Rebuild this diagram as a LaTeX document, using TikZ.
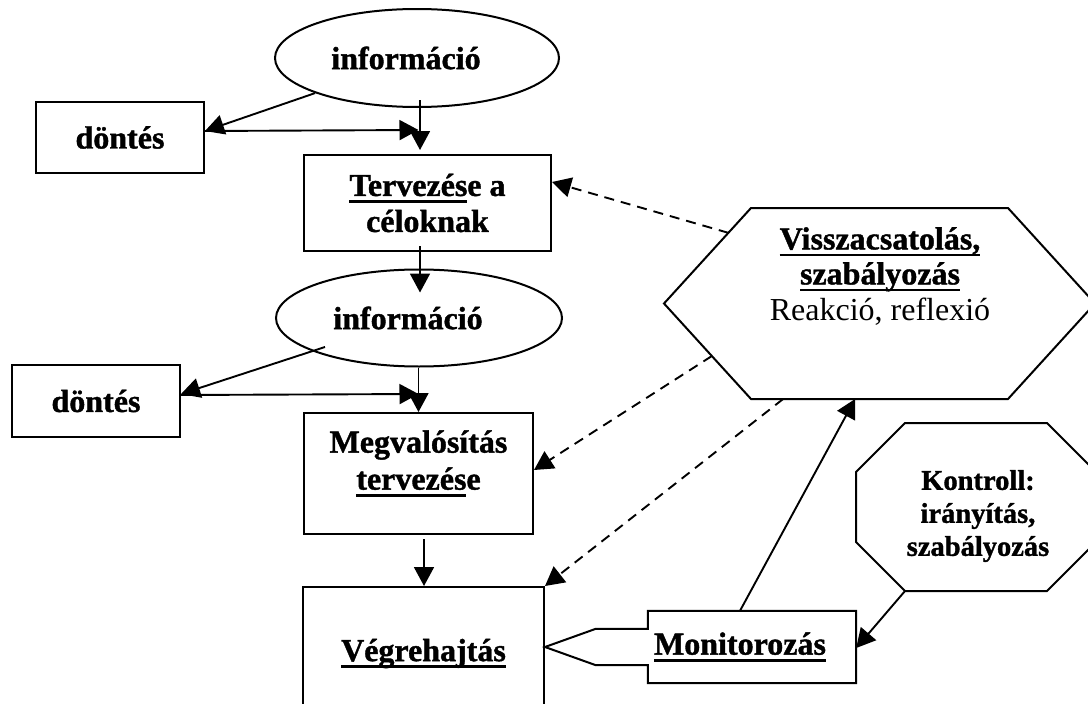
\documentclass[tikz,border=0pt]{standalone}
\usepackage{fontspec}
\setmainfont{Liberation Serif}[BoldFeatures={FakeBold=1.2}]
\usetikzlibrary{arrows.meta,calc,shapes.geometric}
% thick underline that sits just below the baseline
\newsavebox\ulsave
\newcommand\ulbar[1]{\sbox\ulsave{#1}\rlap{\rule[-7pt]{\wd\ulsave}{2.8pt}}\usebox\ulsave}
\begin{document}
\begin{tikzpicture}[x=1pt,y=-1pt,
  every node/.style={font=\fontsize{32}{34}\selectfont\bfseries, inner sep=0pt},
  box/.style={draw, line width=2pt, rectangle, align=center},
  oval/.style={draw, line width=2pt, ellipse},
  outline/.style={line width=2pt, line join=miter},
  arr/.style={line width=1.9pt, -{Triangle[length=19pt,width=20pt]}},
  dsh/.style={arr, dash pattern=on 10pt off 7pt},
]
\useasboundingbox (0,0) rectangle (1088,704);
\clip (0,0) rectangle (1088,704);

% ---- left column: planning chain ----
\node[oval, minimum width=284pt, minimum height=98pt] (info1) at (417,58) {információ\rule{22pt}{0pt}};
\node[box, minimum width=168pt, minimum height=71pt] (dont1) at (120,137.5) {döntés};
\node[box, minimum width=247pt, minimum height=96pt] (terv) at (427.5,203) {\ulbar{Tervezés}e a\\[2pt]céloknak};
\node[oval, minimum width=286pt, minimum height=97pt] (info2) at (419,318) {információ\rule{22pt}{0pt}};
\node[box, minimum width=168pt, minimum height=72pt] (dont2) at (96,401) {döntés};
\node[box, minimum width=229pt, minimum height=121pt, text depth=27pt] (megv) at (418.5,473.5) {Megvalósítás\\[3pt]\ulbar{tervezés}e};
\node[box, minimum width=241pt, minimum height=133pt] (vegr) at (423.5,653.5) {\ulbar{Végrehajtás}};

% ---- feedback hexagon ----
\coordinate (h1) at (664,303.5);
\coordinate (h2) at (751,208);
\coordinate (h3) at (1008,208);
\coordinate (h4) at (1095,303.5);
\coordinate (h5) at (1008,399);
\coordinate (h6) at (751,399);
\draw[outline] (h1) -- (h2) -- (h3) -- (h4) -- (h5) -- (h6) -- cycle;
\node[anchor=north, align=center] (visz) at (880,227)
  {\ulbar{Visszacsatolás,}\\[1pt]\ulbar{szabályozás}\\[2pt]\mdseries Reakció, reflexió};

% ---- control octagon ----
\coordinate (o1) at (905,423);
\coordinate (o2) at (1047,423);
\coordinate (o3) at (1096,472);
\coordinate (o4) at (1096,542);
\coordinate (o5) at (1047,591);
\coordinate (o6) at (905,591);
\coordinate (o7) at (856,542);
\coordinate (o8) at (856,472);
\draw[outline] (o1) -- (o2) -- (o3) -- (o4) -- (o5) -- (o6) -- (o7) -- (o8) -- cycle;
\node[align=center, font=\fontsize{28.5}{33}\selectfont\bfseries] (kont) at (978,516)
  {Kontroll:\\irányítás,\\szabályozás};

% ---- monitoring callout pointing at the execution box ----
\node[minimum width=208pt, minimum height=72pt] (mon) at (752,647) {\ulbar{Monitorozás}\rule{24pt}{0pt}};
\draw[outline] (mon.north west) -- (mon.north east) -- (mon.south east) -- (mon.south west)
  -- ($(mon.south west)+(0,-18)$) -- ++(-52,0) -- (mon.west -| vegr.east)
  -- ($(mon.north west)+(-52,18)$) -- ($(mon.north west)+(0,18)$) -- cycle;

% ---- solid connectors ----
\draw[arr] (info1.199) -- ($(dont1.east)+(0,-6.5)$);
\draw[arr] ($(dont1.east)+(0,-6.5)$) -- ($(terv.north)+(-9,-24)$);
\draw[arr] ($(info1.center)+(3,42)$) -- ($(terv.north)+(-7.5,-4)$);
\draw[arr] ($(terv.south)+(-7.5,-6)$) -- ($(info2.north)+(1,24)$);
\draw[arr] ($(info2.center)+(-94,29)$) -- ($(dont2.east)+(0,-7)$);
\draw[arr] ($(dont2.east)+(0,-6)$) -- ($(megv.north)+(0,-18)$);
\draw[arr] (info2.south -| megv.north) -- (megv.north);
\draw[arr] ($(megv.south)+(5.5,4)$) -- ($(vegr.north)+(0.5,0)$);
\draw[arr] ($(mon.north)+(-12,0)$) -- ($(h6)!0.405!(h5)$);
\draw[arr] (o6) -- ($(mon.east)+(0,1)$);

% ---- dashed feedback connectors ----
\draw[dsh] ($(h1)!0.74!(h2)$) -- ($(terv.east)+(0,-21)$);
\draw[dsh] ($(h1)!0.55!(h6)$) -- ($(megv.east)+(0,-3.5)$);
\draw[dsh] ($(h6)!0.125!(h5)$) -- (vegr.north east);
\end{tikzpicture}
\end{document}
